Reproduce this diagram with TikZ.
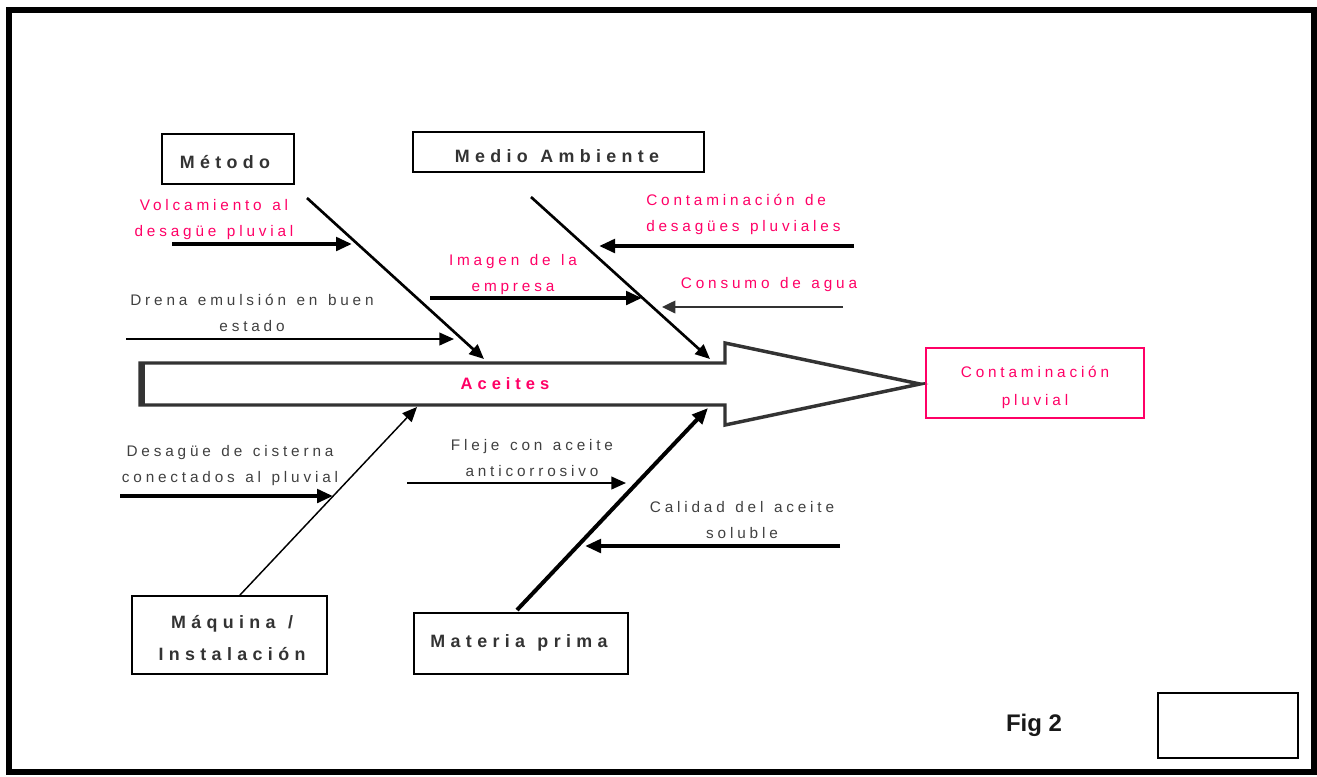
\documentclass[tikz,border=0pt]{standalone}
\usepackage{fontspec}
\setmainfont{Liberation Sans}
\newfontfamily\spaced[LetterSpace=25,WordSpace=1.3]{Liberation Sans}
\newfontfamily\spacedb[LetterSpace=30,WordSpace=1.2]{Liberation Sans}
\usetikzlibrary{arrows.meta}
\definecolor{pinkc}{RGB}{255,0,102}
\definecolor{txtgray}{RGB}{64,64,64}
\definecolor{boxtxt}{RGB}{51,51,51}
\definecolor{outl}{RGB}{51,51,51}
\begin{document}
\begin{tikzpicture}[x=0.75pt,y=-0.75pt,
  causebox/.style={draw=black,line width=1.5pt,inner sep=0pt},
  causetxt/.style={inner sep=0pt,align=center,text=boxtxt,
     font=\spacedb\bfseries\fontsize{13.4}{24}\selectfont},
  lbl/.style={inner sep=0pt,align=center,font=\spaced\fontsize{11.5}{19.5}\selectfont},
  pinklbl/.style={lbl,text=pinkc},
  graylbl/.style={lbl,text=txtgray},
  thickarr/.style={line width=3pt,-{Triangle[length=12pt,width=10pt]}},
  thinarr/.style={line width=1.5pt,-{Triangle[length=11pt,width=9.5pt]}},
  bonearr/.style={line width=2pt,-{Triangle[length=11pt,width=9.5pt]}}
]
\useasboundingbox (0,0) rectangle (1317,776);
% outer frame
\draw[line width=4.5pt] (8.5,10) rectangle (1313.5,772);

% big arrow
\coordinate (tip) at (920,384);
\draw[outl,line width=2.6pt,line join=miter]
  (140,363) -- (725,363) -- (725,343) -- (tip) -- (725,425) -- (725,405) -- (140,405) -- cycle;
\draw[outl,line width=4.5pt] (142,363) -- (142,405);
\node[text=pinkc,font=\spacedb\bfseries\fontsize{12.4}{14}\selectfont,inner sep=0pt] (aceites) at (505,384) {Aceites};

% effect box
\node[draw=pinkc,line width=1.5pt,minimum width=163.5pt,minimum height=52.5pt,inner sep=0pt] (efecto) at (1035,383) {};
\node[pinklbl,font=\spaced\fontsize{11.5}{21}\selectfont] (efectotxt) at (1035,387) {Contaminación\\pluvial};
\draw[outl,line width=1.5pt] (tip) -- (efecto.west);

% cause boxes
\node[causebox,minimum width=99pt,minimum height=37.5pt] (metodo) at (228,159) {};
\node[causetxt] (metodotxt) at (225,162) {Método};
\node[causebox,minimum width=218.25pt,minimum height=30pt] (medio) at (558.5,152) {};
\node[causetxt] (mediotxt) at (557,156) {Medio Ambiente};
\node[causebox,minimum width=146.25pt,minimum height=58.5pt] (maquina) at (229.5,635) {};
\node[causetxt] (maquinatxt) at (232,638) {Máquina /\\Instalación};
\node[causebox,minimum width=160.5pt,minimum height=45.75pt] (materia) at (521,643.5) {};
\node[causetxt] (materiatxt) at (519,643) {Materia prima};

% bones
\coordinate (mB) at (307,198);  \coordinate (mE) at (484,359);
\coordinate (aB) at (531,197);  \coordinate (aE) at (710,359);
\coordinate (qB) at (240,595);  \coordinate (qE) at (417,407);
\coordinate (pB) at (517,610);  \coordinate (pE) at (708,408);
\draw[bonearr] (mB) -- (mE);
\draw[bonearr] (aB) -- (aE);
\draw[line width=1.1pt,-{Triangle[length=11pt,width=9.5pt]}] (qB) -- (qE);
\draw[line width=3pt,-{Triangle[length=12pt,width=10pt]}] (pB) -- (pE);

% sub-causes
\node[pinklbl] (volc) at (214,220) {Volcamiento al\\desagüe pluvial};
\coordinate (volcA) at (172,244); \coordinate (volcB) at (352,244);
\draw[thickarr] (volcA) -- (volcB);

\node[graylbl] (drena) at (252,313) {Drena emulsión en buen\\estado};
\coordinate (drenaA) at (126,339); \coordinate (drenaB) at (454,339);
\draw[thinarr] (drenaA) -- (drenaB);

\node[pinklbl] (imagen) at (513,275) {Imagen de la\\empresa};
\coordinate (imgA) at (430,298); \coordinate (imgB) at (642,298);
\draw[thickarr] (imgA) -- (imgB);

\node[pinklbl,align=left,anchor=west] (contdes) at (646,214) {Contaminación de\\desagües pluviales};
\coordinate (cdA) at (854,246); \coordinate (cdB) at (599,246);
\draw[thickarr] (cdA) -- (cdB);

\node[pinklbl] (consumo) at (769,285) {Consumo de agua};
\coordinate (coA) at (843,307); \coordinate (coB) at (662,307);
\draw[outl,line width=1.1pt,-{Triangle[length=10pt,width=9.5pt]}] (coA) -- (coB);

\node[graylbl] (cisterna) at (230,466) {Desagüe de cisterna\\conectados al pluvial};
\coordinate (ciA) at (120,496); \coordinate (ciB) at (333,496);
\draw[thickarr] (ciA) -- (ciB);

\node[graylbl] (fleje) at (532,458) {Fleje con aceite\\anticorrosivo};
\coordinate (flA) at (407,483); \coordinate (flB) at (626,483);
\draw[thinarr] (flA) -- (flB);

\node[graylbl] (calidad) at (742,520) {Calidad del aceite\\soluble};
\coordinate (caA) at (840,546); \coordinate (caB) at (585,546);
\draw[thickarr] (caA) -- (caB);

% figure label and blank box
\node[font=\bfseries\fontsize{18}{20}\selectfont,text=black!90,inner sep=0pt] (fig) at (1034,725) {Fig 2};
\node[draw=black,line width=1.5pt,minimum width=105pt,minimum height=48.75pt,inner sep=0pt] (blank) at (1228,725.5) {};
\end{tikzpicture}
\end{document}
